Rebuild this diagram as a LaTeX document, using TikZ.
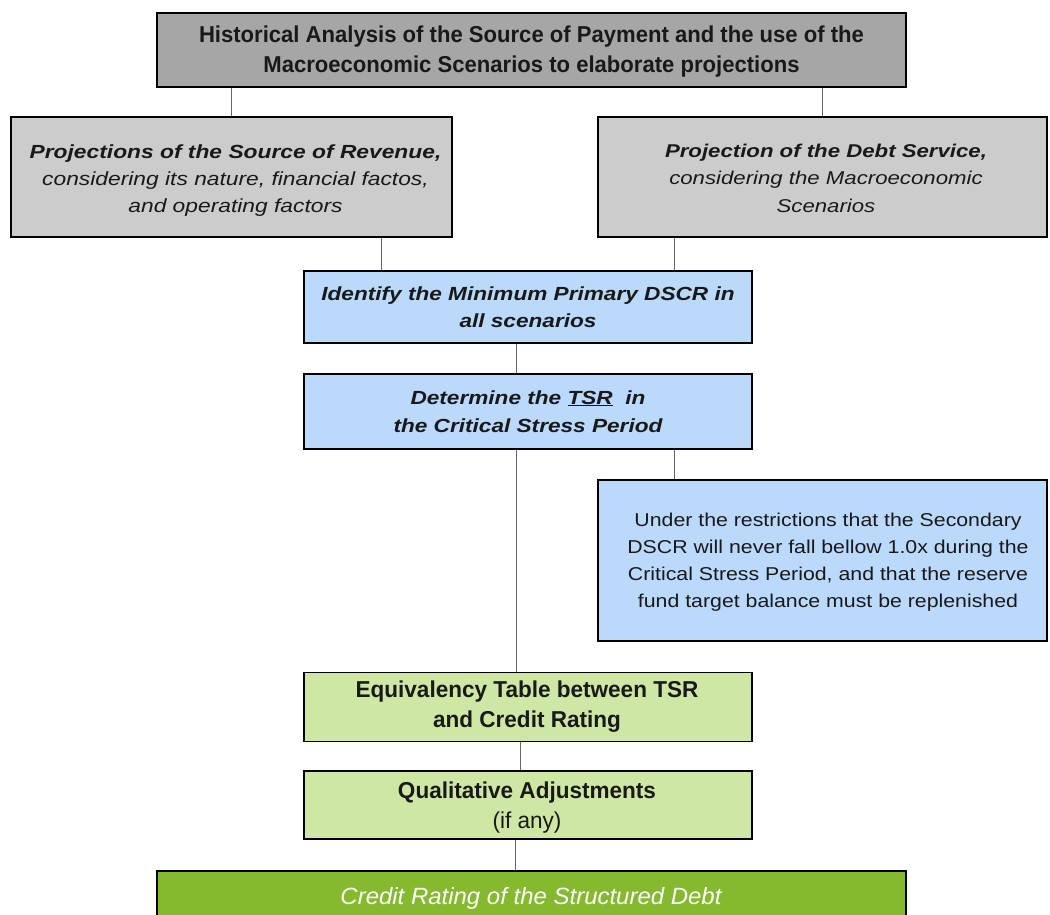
\documentclass[tikz,border=0pt]{standalone}
\usepackage{fontspec}
\setmainfont{Liberation Sans}
\newfontfamily\fA[FakeStretch=0.96]{Liberation Sans}
\newfontfamily\fB[FakeStretch=1.2]{Liberation Sans}
\newfontfamily\fC[FakeStretch=1.19]{Liberation Sans}
\newfontfamily\fF[FakeStretch=1.145]{Liberation Sans}
\newfontfamily\fD[FakeStretch=0.98]{Liberation Sans}
\newfontfamily\fE[FakeStretch=1.02]{Liberation Sans}
\begin{document}
\begin{tikzpicture}[x=1pt,y=-1pt,
  box/.style={draw=black,line width=1.9pt,inner sep=0pt},
  topbox/.style={box,fill=topgray},
  graybox/.style={box,fill=lightgray2},
  bluebox/.style={box,fill=lightblue},
  greenbox/.style={box,fill=lightgreen},
  darkbox/.style={box,fill=darkgreen},
  txt/.style={inner sep=0pt,anchor=base,align=center,text=black!90},
  conn/.style={draw=black!60,line width=0.8pt}]
\definecolor{topgray}{HTML}{A6A6A6}
\definecolor{lightgray2}{HTML}{CCCCCC}
\definecolor{lightblue}{HTML}{BAD9FB}
\definecolor{lightgreen}{HTML}{CFE7A5}
\definecolor{darkgreen}{HTML}{85B92E}
\clip (0,0) rectangle (1050,915);
\fill[white] (0,0) rectangle (1050,915);

% boxes
\node[topbox,minimum width=749pt,minimum height=74pt] (top) at (531.5,50) {};
\node[graybox,minimum width=441pt,minimum height=120pt] (L) at (231.5,177) {};
\node[graybox,minimum width=449pt,minimum height=120pt] (R) at (822.5,177) {};
\node[bluebox,minimum width=448pt,minimum height=72pt] (B1) at (528,307) {};
\node[bluebox,minimum width=448pt,minimum height=75pt] (B2) at (528,411.5) {};
\node[bluebox,minimum width=449pt,minimum height=161pt] (B3) at (822.5,560.5) {};
\node[greenbox,minimum width=448pt,minimum height=69pt] (G1) at (528,707) {};
\node[greenbox,minimum width=448pt,minimum height=68pt] (G2) at (528,805) {};
\node[darkbox,minimum width=749pt,minimum height=80pt,anchor=north] (D) at (531.5,870) {};

% texts (anchored at the baseline of their last line)
\node[txt,font=\fA\fontsize{23}{30}\selectfont] (topt) at (531.5,72.5)
  {{\bfseries Historical Analysis of the Source of Payment and the use of the}\\
   {\bfseries Macroeconomic Scenarios to elaborate projections}};

\node[txt,font=\fB\fontsize{19}{27}\selectfont] (Lt) at (235.5,212)
  {{\bfseries\itshape Projections of the Source of Revenue,}\\
   {\itshape considering its nature, financial factos,}\\
   {\itshape and operating factors}};

\node[txt,font=\fB\fontsize{18.5}{27.5}\selectfont] (Rt) at (826,212.5)
  {{\bfseries\itshape Projection of the Debt Service,}\\
   {\itshape considering the Macroeconomic}\\
   {\itshape Scenarios}};

\node[txt,font=\fC\fontsize{19}{27}\selectfont] (B1t) at (528,327)
  {{\bfseries\itshape Identify the Minimum Primary DSCR in}\\
   {\bfseries\itshape all scenarios}};

\node[txt,font=\fC\fontsize{19}{28}\selectfont] (B2t) at (528,432)
  {{\bfseries\itshape Determine the \underline{TSR}\ \ in}\\
   {\bfseries\itshape the Critical Stress Period}};

\node[txt,font=\fF\fontsize{18.6}{26.7}\selectfont] (B3t) at (828,607)
  {Under the restrictions that the Secondary\\
   DSCR will never fall bellow 1.0x during the\\
   Critical Stress Period, and that the reserve\\
   fund target balance must be replenished};

\node[txt,font=\fD\fontsize{23}{30}\selectfont] (G1t) at (527,727.5)
  {{\bfseries Equivalency Table between TSR}\\
   {\bfseries and Credit Rating}};

\node[txt,font=\fD\fontsize{23}{30}\selectfont] (G2t) at (527,828)
  {{\bfseries Qualitative Adjustments}\\
   (if any)};

\node[txt,text=white,font=\fE\fontsize{23.5}{28}\selectfont] (Dt) at (531,904)
  {\itshape Credit Rating of the Structured Debt};

% connector positions
\coordinate (x381) at (381,0);
\coordinate (x674) at (674,0);
\coordinate (x516) at (516,0);
\coordinate (x520) at (520,0);
\coordinate (x515) at (515,0);

\draw[conn] (top.south -| L.north) -- (L.north);
\draw[conn] (top.south -| R.north) -- (R.north);
\draw[conn] (L.south -| x381) -- (B1.north -| x381);
\draw[conn] (R.south -| x674) -- (B1.north -| x674);
\draw[conn] (B1.south -| x516) -- (B2.north -| x516);
\draw[conn] (B2.south -| x516) -- (G1.north -| x516);
\draw[conn] (B2.south -| x674) -- (B3.north -| x674);
\draw[conn] (G1.south -| x520) -- (G2.north -| x520);
\draw[conn] (G2.south -| x515) -- (D.north -| x515);
\end{tikzpicture}
\end{document}
